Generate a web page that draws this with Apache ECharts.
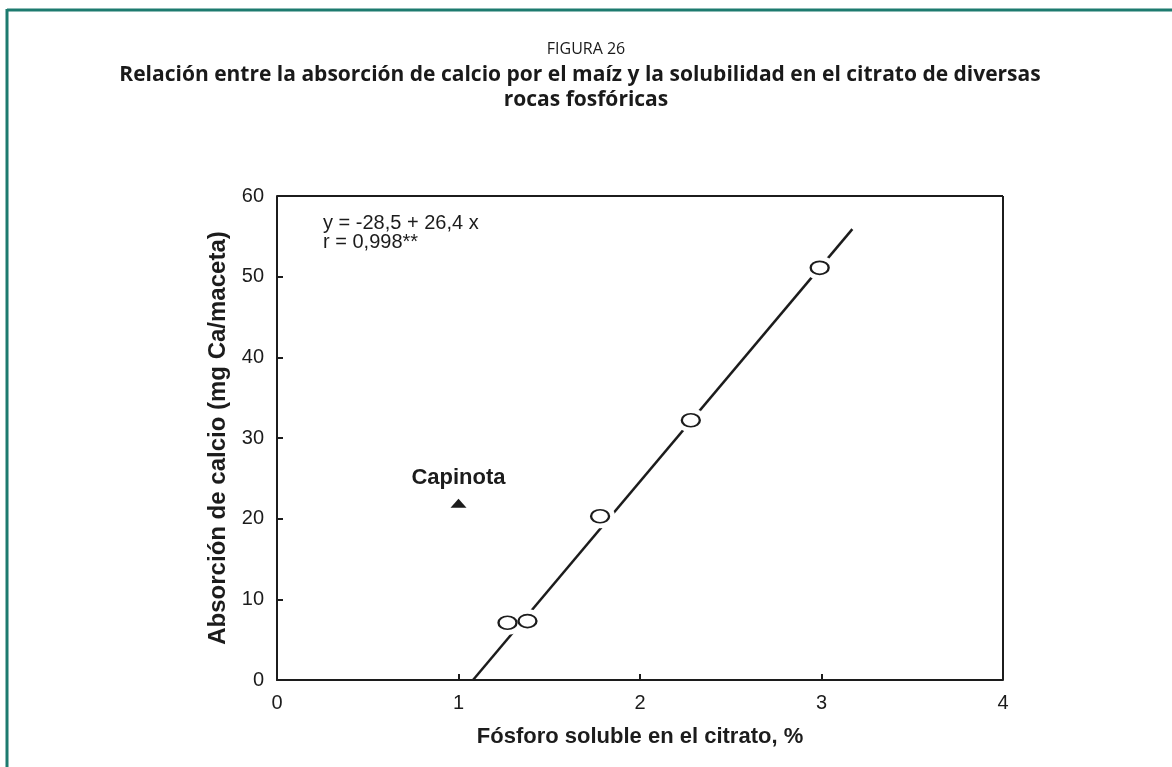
<!DOCTYPE html>
<html>
<head>
<meta charset="utf-8">
<script src="https://cdn.jsdelivr.net/npm/echarts@6/dist/echarts.min.js"></script>
<style>
  html, body { margin: 0; padding: 0; background: #fff; }
  #main { width: 1172px; height: 767px; }
</style>
</head>
<body>
<div id="main"></div>
<script>
// puntos
const rocasX = [1.27, 1.38, 1.78, 2.28, 2.99]
const rocasY = [7.1, 7.3, 20.3, 32.2, 51.1]
const capinota = [1.0, 21.9]
// recta de regresion (extremos dibujados)
const rectaX = [1.08, 3.17]
const rectaY = [0.0, 55.9]
const xTicks = [0, 1, 2, 3, 4]
const yTicks = [0, 10, 20, 30, 40, 50, 60]

const puntos = rocasX.map((x, i) => [x, rocasY[i]])
const recta = rectaX.map((x, i) => [x, rectaY[i]])

const myChart = echarts.init(document.getElementById('main'))
const ink = '#1c1c1c'
const labelFont = 'Liberation Sans, Arial, sans-serif'

myChart.setOption({
  animation: false,
  backgroundColor: '#fff',
  title: {
    text: 'FIGURA 26',
    left: 'center',
    top: 36,
    textStyle: { fontFamily: 'Open Sans', fontSize: 16, fontWeight: 'normal', color: '#1a1a1a' }
  },
  grid: { left: 277, right: 169, top: 196, bottom: 87 },
  xAxis: {
    type: 'value',
    min: 0,
    max: 4,
    interval: 1,
    name: 'Fósforo soluble en el citrato, %',
    nameLocation: 'middle',
    nameGap: 46,
    nameTextStyle: { fontFamily: labelFont, fontSize: 22, fontWeight: 'bold', color: ink },
    axisLine: { lineStyle: { color: ink, width: 2 } },
    axisTick: { inside: true, length: 6, lineStyle: { color: ink, width: 2 } },
    axisLabel: {
      fontFamily: labelFont, fontSize: 20, color: ink, margin: 13,
      formatter: v => xTicks.includes(v) ? String(v) : ''
    },
    splitLine: { show: false }
  },
  yAxis: {
    type: 'value',
    min: 0,
    max: 60,
    interval: 10,
    name: 'Absorción de calcio (mg Ca/maceta)',
    nameLocation: 'middle',
    nameGap: 44,
    nameTextStyle: { fontFamily: labelFont, fontSize: 24, fontWeight: 'bold', color: ink },
    axisLine: { lineStyle: { color: ink, width: 2 } },
    axisTick: { inside: true, length: 6, lineStyle: { color: ink, width: 2 } },
    axisLabel: {
      fontFamily: labelFont, fontSize: 20, color: ink, margin: 13,
      formatter: v => yTicks.includes(v) ? String(v) : ''
    },
    splitLine: { show: false }
  },
  graphic: [
    // caja del grafico (lados superior y derecho)
    { type: 'line', shape: { x1: 277, y1: 196, x2: 1003, y2: 196 }, style: { stroke: ink, lineWidth: 2 }, z: 10 },
    { type: 'line', shape: { x1: 1003, y1: 196, x2: 1003, y2: 680 }, style: { stroke: ink, lineWidth: 2 }, z: 10 },
    // marco de la figura
    { type: 'line', shape: { x1: 7, y1: 10, x2: 1172, y2: 10 }, style: { stroke: '#1d7b6f', lineWidth: 3 } },
    { type: 'line', shape: { x1: 7, y1: 9, x2: 7, y2: 767 }, style: { stroke: '#1d7b6f', lineWidth: 3 } },
    // subtitulo
    {
      type: 'text', x: 580, y: 75,
      style: {
        text: 'Relación entre la absorción de calcio por el maíz y la solubilidad en el citrato de diversas',
        fontFamily: 'Open Sans', fontSize: 21, fontWeight: 'bold', fill: '#1a1a1a',
        align: 'center', verticalAlign: 'middle'
      }
    },
    {
      type: 'text', x: 586, y: 100,
      style: {
        text: 'rocas fosfóricas',
        fontFamily: 'Open Sans', fontSize: 21, fontWeight: 'bold', fill: '#1a1a1a',
        align: 'center', verticalAlign: 'middle'
      }
    },
    {
      type: 'text', left: 323, top: 213,
      style: { text: 'y = -28,5 + 26,4 x\nr = 0,998**', fontFamily: labelFont, fontSize: 20, lineHeight: 19, fill: ink }
    }
  ],
  series: [
    {
      type: 'line',
      data: recta,
      symbol: 'none',
      lineStyle: { color: ink, width: 2.5 },
      z: 2
    },
    {
      // hueco blanco alrededor de los circulos
      type: 'scatter',
      data: puntos,
      symbol: 'circle',
      symbolSize: [30, 24],
      itemStyle: { color: '#fff', opacity: 1 },
      z: 3
    },
    {
      type: 'scatter',
      data: puntos,
      symbol: 'circle',
      symbolSize: [18, 13],
      itemStyle: { color: '#fff', borderColor: ink, borderWidth: 2, opacity: 1 },
      z: 4
    },
    {
      type: 'scatter',
      data: [capinota],
      symbol: 'triangle',
      symbolSize: [16, 9],
      itemStyle: { color: ink, opacity: 1 },
      label: {
        show: true,
        position: 'top',
        distance: 10,
        formatter: 'Capinota',
        fontFamily: labelFont,
        fontSize: 22,
        fontWeight: 'bold',
        color: ink
      },
      z: 4
    }
  ]
})
</script>
</body>
</html>
